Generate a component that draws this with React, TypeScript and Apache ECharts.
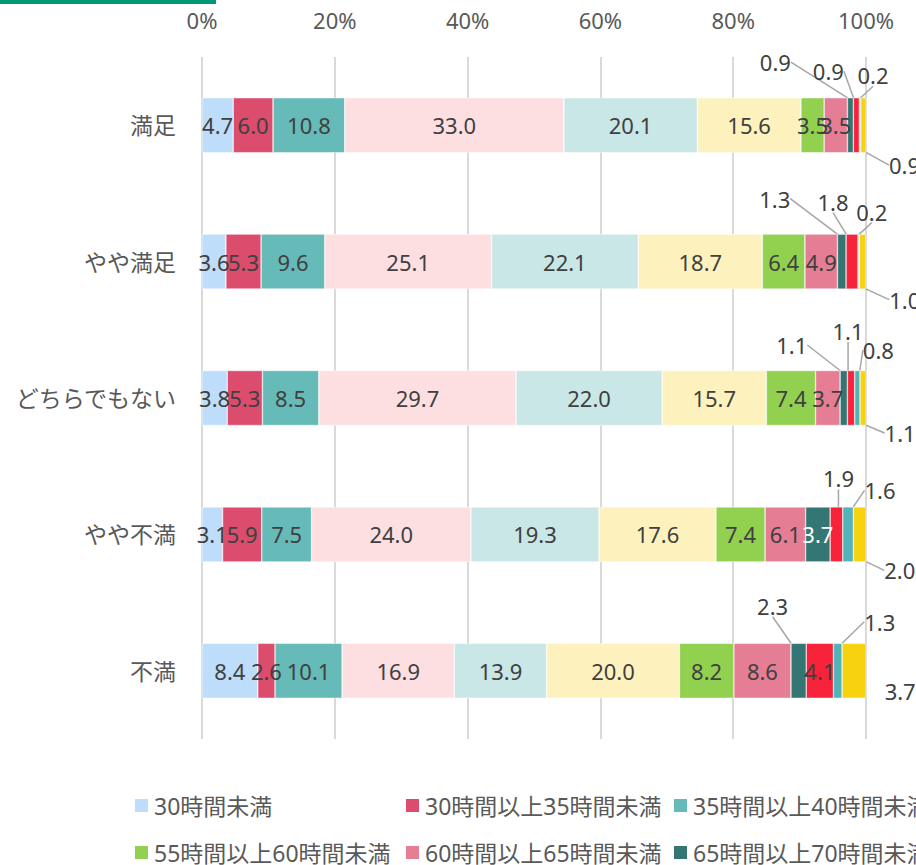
import React, { useEffect, useRef } from "react";
import * as echarts from "echarts";

const categories = ["満足", "やや満足", "どちらでもない", "やや不満", "不満"];
const seriesNames = [
  "30時間未満",
  "30時間以上35時間未満",
  "35時間以上40時間未満",
  "40時間以上45時間未満",
  "45時間以上50時間未満",
  "50時間以上55時間未満",
  "55時間以上60時間未満",
  "60時間以上65時間未満",
  "65時間以上70時間未満",
  "70時間以上75時間未満",
  "75時間以上80時間未満",
  "80時間以上",
];
const h30u = [4.7, 3.6, 3.8, 3.1, 8.4];
const h30to35 = [6.0, 5.3, 5.3, 5.9, 2.6];
const h35to40 = [10.8, 9.6, 8.5, 7.5, 10.1];
const h40to45 = [33.0, 25.1, 29.7, 24.0, 16.9];
const h45to50 = [20.1, 22.1, 22.0, 19.3, 13.9];
const h50to55 = [15.6, 18.7, 15.7, 17.6, 20.0];
const h55to60 = [3.5, 6.4, 7.4, 7.4, 8.2];
const h60to65 = [3.5, 4.9, 3.7, 6.1, 8.6];
const h65to70 = [0.9, 1.3, 1.1, 3.7, 2.3];
const h70to75 = [0.9, 1.8, 1.1, 1.9, 4.1];
const h75to80 = [0.2, 0.2, 0.8, 1.6, 1.3];
const h80over = [0.9, 1.0, 1.1, 2.0, 3.7];
const seriesValues = [h30u, h30to35, h35to40, h40to45, h45to50, h50to55, h55to60, h60to65, h65to70, h70to75, h75to80, h80over];
const xTicks = [0, 20, 40, 60, 80, 100];

const colors = [
  "#BDDDFB", "#DC4C6C", "#66BAB7", "#FDDFE2", "#C9E7E6", "#FDF2BE",
  "#92D050", "#E57D95", "#347673", "#F6233B", "#51B4B8", "#F7D30F",
];

// label callout offsets (style): key "series-category" -> [dx, dy, showLeaderLine]
const labelShift: Record<string, [number, number, boolean]> = {
  "8-0": [-75, -63, true], "9-0": [-28, -54, true], "10-0": [13, -50, true], "11-0": [41, 40, true],
  "8-1": [-67, -63, true], "9-1": [-19, -60, true], "10-1": [13, -50, true], "11-1": [42, 38, true],
  "8-2": [-52, -53, true], "9-2": [-3, -67, true], "10-2": [21, -48, true], "11-2": [37, 35, true],
  "9-3": [2, -56, true], "10-3": [32, -44, true], "11-3": [40, 36, true],
  "8-4": [-26, -65, true], "10-4": [42, -49, true], "11-4": [46, 20, false],
};
const whiteLabels: Record<string, boolean> = { "8-3": true };

const FONT = "'Noto Sans', 'Noto Sans CJK JP', sans-serif";
const legendCols = [133, 404, 672, 940, 1208, 1476];
const legendRowsTop = [794, 841];

export default function App() {
  const ref = useRef<HTMLDivElement>(null);
  useEffect(() => {
    if (!ref.current) return;
    const chart = echarts.init(ref.current, undefined, { renderer: "svg" });
    const series = seriesNames.map((name, si) => ({
      name,
      type: "bar",
      stack: "total",
      barWidth: 55,
      itemStyle: { color: colors[si], borderColor: "#FFFFFF", borderWidth: 0.5 },
      label: {
        show: true,
        position: "inside",
        color: "#404040",
        fontSize: 22,
        fontFamily: FONT,
        formatter: (p: any) => Number(p.value).toFixed(1),
      },
      labelLine: { show: false, lineStyle: { color: "#A6A6A6", width: 1.5 } },
      labelLayout: (p: any) => {
        const o = labelShift[`${p.seriesIndex}-${p.dataIndex}`];
        return o ? { dx: o[0], dy: o[1] } : {};
      },
      data: seriesValues[si].map((v, ci) => {
        const key = `${si}-${ci}`;
        const item: any = { value: v };
        if (labelShift[key]) item.labelLine = { show: labelShift[key][2] };
        if (whiteLabels[key]) item.label = { color: "#FFFFFF" };
        return item;
      }),
    }));
    const legends = seriesNames.map((name, i) => ({
      data: [name],
      left: legendCols[i % 6],
      top: legendRowsTop[Math.floor(i / 6)],
      icon: "rect",
      itemWidth: 15,
      itemHeight: 15,
      selectedMode: false,
      padding: 0,
      textStyle: { fontSize: 23, color: "#595959", fontFamily: FONT },
    }));
    chart.setOption({
      animation: false,
      textStyle: { fontFamily: FONT },
      graphic: [
        { type: "rect", left: 0, top: 0, shape: { width: 216, height: 4 }, style: { fill: "#009874" } },
      ],
      legend: legends,
      grid: { left: 202, top: 57, width: 664, height: 682, containLabel: false },
      xAxis: {
        type: "value",
        position: "top",
        min: xTicks[0],
        max: xTicks[xTicks.length - 1],
        interval: 20,
        axisLine: { show: false },
        axisTick: { show: false },
        axisLabel: { formatter: "{value}%", fontSize: 22, color: "#595959", margin: 26, fontFamily: FONT },
        splitLine: { show: true, lineStyle: { color: "#D9D9D9", width: 2 } },
      },
      yAxis: {
        type: "category",
        inverse: true,
        data: categories,
        axisLine: { show: false },
        axisTick: { show: false },
        axisLabel: { fontSize: 23, color: "#595959", margin: 26, fontFamily: FONT },
      },
      series,
    });
    return () => chart.dispose();
  }, []);
  return (
    <div style={{ position: "fixed", left: 0, top: 0, width: 916, height: 865, overflow: "hidden", background: "#fff" }}>
      <div ref={ref} style={{ width: 1800, height: 865 }} />
    </div>
  );
}
